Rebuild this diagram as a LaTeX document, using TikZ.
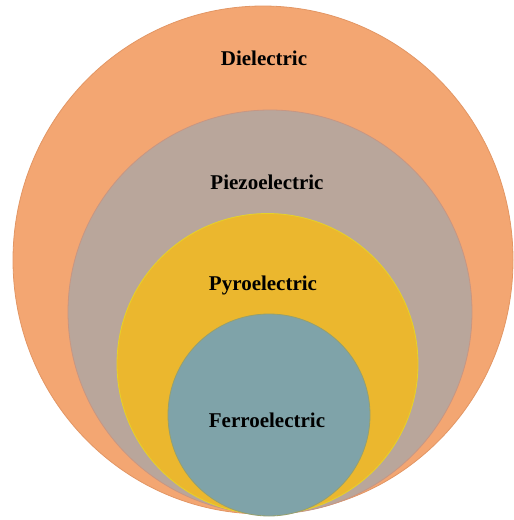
\documentclass[tikz,border=0pt]{standalone}
\usepackage{fontspec}
\setmainfont{Liberation Serif}
\definecolor{cDiel}{RGB}{243,166,114}
\definecolor{cDielE}{RGB}{226,150,100}
\definecolor{cPiezo}{RGB}{185,166,155}
\definecolor{cPiezoE}{RGB}{200,150,130}
\definecolor{cPyro}{RGB}{235,183,46}
\definecolor{cPyroE}{RGB}{230,210,40}
\definecolor{cFerro}{RGB}{127,163,169}
\definecolor{cFerroE}{RGB}{150,160,110}
\tikzset{
  lbl/.style={font=\fontsize{21}{24}\selectfont\bfseries, text=black, inner sep=0pt},
  ring/.style={line width=0.8pt}
}
\begin{document}
\begin{tikzpicture}[x=1pt,y=-1pt]
\useasboundingbox (0,0) rectangle (514,520);
\path[ring, fill=cDiel, draw=cDielE] (263,260) ellipse [x radius=250, y radius=254];
\path[ring, fill=cPiezo, draw=cPiezoE] (270,312) circle [radius=202];
\path[ring, fill=cPyro, draw=cPyroE] (267.5,364) circle [radius=150.5];
\path[ring, fill=cFerro, draw=cFerroE] (269,415) circle [radius=101];
\node[lbl] (diel) at (264,58) {Dielectric};
\node[lbl] (piezo) at (267,182) {Piezoelectric};
\node[lbl] (pyro) at (263,285) {Pyroelectric};
\node[lbl] (ferro) at (267,420) {Ferroelectric};
\end{tikzpicture}
\end{document}
